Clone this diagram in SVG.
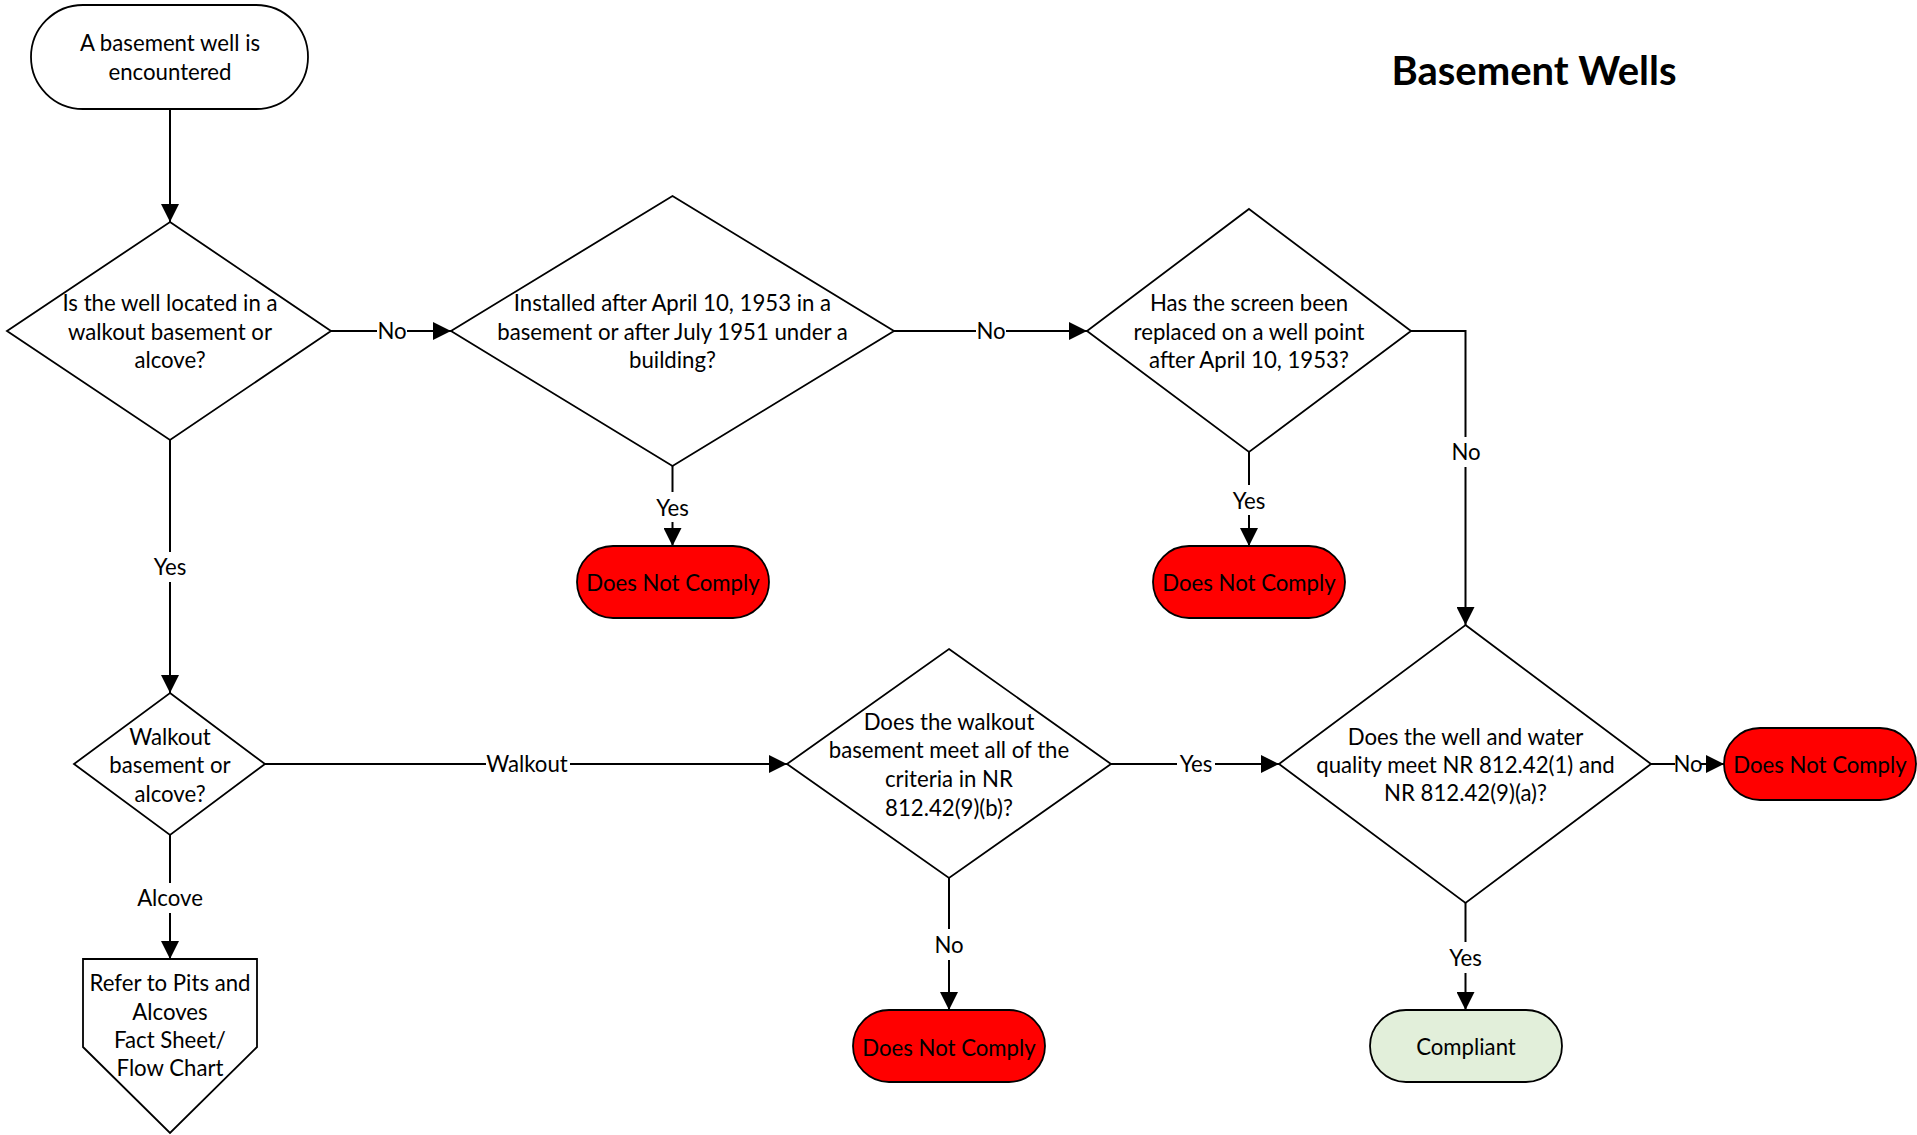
<svg xmlns="http://www.w3.org/2000/svg" width="1917" height="1135" viewBox="0 0 1917 1135">
<style>
.sh{fill:#fff;stroke:#000;stroke-width:1.8}
.red{fill:#ff0000;stroke:#000;stroke-width:1.8}
.grn{fill:#e2efda;stroke:#000;stroke-width:1.8}
.t{font-family:Lato,"Liberation Sans",sans-serif;font-size:22.2px;fill:#000;text-anchor:middle}
.ttl{font-family:Lato,"Liberation Sans",sans-serif;font-size:40px;font-weight:bold;fill:#000;text-anchor:middle}
.ln{fill:none;stroke:#000;stroke-width:2}
.bg{fill:#fff}
</style>
<defs>
<marker id="ah" markerUnits="userSpaceOnUse" markerWidth="18" markerHeight="18" refX="18" refY="9" orient="auto">
<path d="M0,0 L18,9 L0,18 z" fill="#000"/>
</marker>
</defs>
<rect width="1917" height="1135" fill="#fff"/>
<text class="ttl" x="1534" y="85">Basement Wells</text>

<g id="connectors">
<path class="ln" d="M170,109 V222" marker-end="url(#ah)"/>
<path class="ln" d="M331,331 H451" marker-end="url(#ah)"/>
<path class="ln" d="M170,440 V693" marker-end="url(#ah)"/>
<path class="ln" d="M894,331 H1087" marker-end="url(#ah)"/>
<path class="ln" d="M672.5,466 V546" marker-end="url(#ah)"/>
<path class="ln" d="M1249,452 V546" marker-end="url(#ah)"/>
<path class="ln" d="M1411,331 H1465.5 V625" marker-end="url(#ah)"/>
<path class="ln" d="M265,764 H787" marker-end="url(#ah)"/>
<path class="ln" d="M170,835 V959" marker-end="url(#ah)"/>
<path class="ln" d="M1111,764 H1279" marker-end="url(#ah)"/>
<path class="ln" d="M949,878 V1010" marker-end="url(#ah)"/>
<path class="ln" d="M1651,764 H1724" marker-end="url(#ah)"/>
<path class="ln" d="M1465.5,903 V1010" marker-end="url(#ah)"/>
<rect class="bg" x="377" y="320" width="30" height="24"/>
<text class="t" x="392" y="339">No</text>
<rect class="bg" x="150" y="552" width="40" height="30"/>
<text class="t" x="170" y="575">Yes</text>
<rect class="bg" x="976" y="320" width="30" height="24"/>
<text class="t" x="991" y="339">No</text>
<rect class="bg" x="652" y="492" width="41" height="30"/>
<text class="t" x="672.5" y="516">Yes</text>
<rect class="bg" x="1229" y="485" width="40" height="30"/>
<text class="t" x="1249" y="508.5">Yes</text>
<rect class="bg" x="1450" y="437" width="31" height="30"/>
<text class="t" x="1466" y="459.5">No</text>
<rect class="bg" x="486" y="752" width="84" height="24"/>
<text class="t" x="527" y="772">Walkout</text>
<rect class="bg" x="137" y="883" width="66" height="30"/>
<text class="t" x="170" y="906">Alcove</text>
<rect class="bg" x="1177" y="752" width="38" height="24"/>
<text class="t" x="1196" y="772">Yes</text>
<rect class="bg" x="934" y="929" width="30" height="31"/>
<text class="t" x="949" y="953">No</text>
<rect class="bg" x="1675" y="752" width="26" height="24"/>
<text class="t" x="1688" y="772">No</text>
<rect class="bg" x="1445" y="942" width="41" height="31"/>
<text class="t" x="1465.5" y="966">Yes</text>
</g>

<g id="start">
<rect class="sh" x="31" y="5" width="277" height="104" rx="52" ry="52"/>
<text class="t" x="170" y="51">A basement well is</text>
<text class="t" x="170" y="79.5">encountered</text>
</g>

<g id="d1">
<polygon class="sh" points="170,222 331,331 170,440 7,331"/>
<text class="t" x="170" y="311">Is the well located in a</text>
<text class="t" x="170" y="340">walkout basement or</text>
<text class="t" x="170" y="368">alcove?</text>
</g>

<g id="d2">
<polygon class="sh" points="672.5,196 894,331 672.5,466 451,331"/>
<text class="t" x="672.5" y="311">Installed after April 10, 1953 in a</text>
<text class="t" x="672.5" y="339.5">basement or after July 1951 under a</text>
<text class="t" x="672.5" y="368">building?</text>
</g>

<g id="d3">
<polygon class="sh" points="1249,209 1411,331 1249,452 1087,331"/>
<text class="t" x="1249" y="311">Has the screen been</text>
<text class="t" x="1249" y="339.5">replaced on a well point</text>
<text class="t" x="1249" y="368">after April 10, 1953?</text>
</g>

<g id="dnc1">
<rect class="red" x="577" y="546" width="192" height="72" rx="36" ry="36"/>
<text class="t" x="673" y="591">Does Not Comply</text>
</g>

<g id="dnc2">
<rect class="red" x="1153" y="546" width="192" height="72" rx="36" ry="36"/>
<text class="t" x="1249" y="591">Does Not Comply</text>
</g>

<g id="d5">
<polygon class="sh" points="170,693 265,764 170,835 74,764"/>
<text class="t" x="170" y="745">Walkout</text>
<text class="t" x="170" y="773">basement or</text>
<text class="t" x="170" y="802">alcove?</text>
</g>

<g id="offpage">
<polygon class="sh" points="83,959 257,959 257,1047 170,1133 83,1047"/>
<text class="t" x="170" y="991">Refer to Pits and</text>
<text class="t" x="170" y="1019.5">Alcoves</text>
<text class="t" x="170" y="1048"> Fact Sheet/</text>
<text class="t" x="170" y="1076">Flow Chart</text>
</g>

<g id="d6">
<polygon class="sh" points="949,649 1111,764 949,878 787,764"/>
<text class="t" x="949" y="729.5">Does the walkout</text>
<text class="t" x="949" y="758">basement meet all of the</text>
<text class="t" x="949" y="787">criteria in NR</text>
<text class="t" x="949" y="816">812.42(9)(b)?</text>
</g>

<g id="dnc3">
<rect class="red" x="853" y="1010" width="192" height="72" rx="36" ry="36"/>
<text class="t" x="949" y="1056">Does Not Comply</text>
</g>

<g id="d4">
<polygon class="sh" points="1465.5,625 1651,764 1465.5,903 1279,764"/>
<text class="t" x="1465.5" y="744.5">Does the well and water</text>
<text class="t" x="1465.5" y="773">quality meet NR 812.42(1) and</text>
<text class="t" x="1465.5" y="801">NR 812.42(9)(a)?</text>
</g>

<g id="dnc4">
<rect class="red" x="1724" y="728" width="192" height="72" rx="36" ry="36"/>
<text class="t" x="1820" y="773">Does Not Comply</text>
</g>

<g id="compliant">
<rect class="grn" x="1370" y="1010" width="192" height="72" rx="36" ry="36"/>
<text class="t" x="1466" y="1055">Compliant</text>
</g>
</svg>
